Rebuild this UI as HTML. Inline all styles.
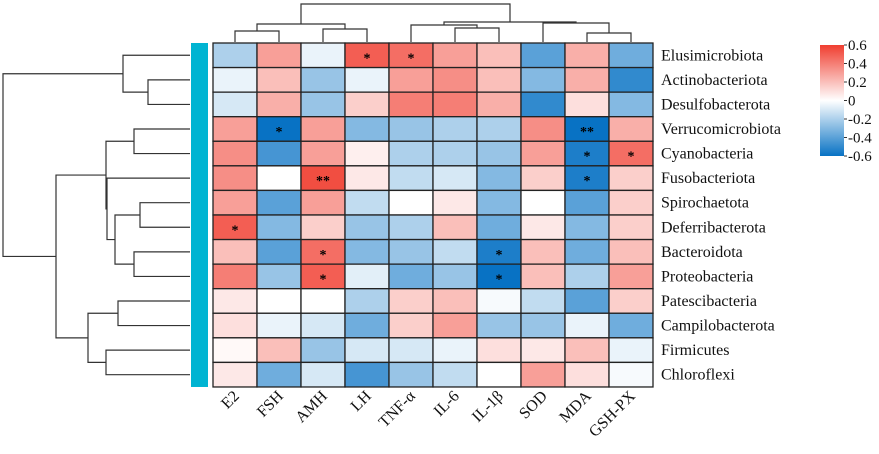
<!DOCTYPE html>
<html><head><meta charset="utf-8"><style>
html,body{margin:0;padding:0;background:#fff;}
svg{display:block;font-family:"Liberation Serif",serif;}
</style></head><body>
<svg id="c" width="879" height="454" viewBox="0 0 879 454"></svg>
<script>
const rows=["Elusimicrobiota","Actinobacteriota","Desulfobacterota","Verrucomicrobiota","Cyanobacteria","Fusobacteriota","Spirochaetota","Deferribacterota","Bacteroidota","Proteobacteria","Patescibacteria","Campilobacterota","Firmicutes","Chloroflexi"];
const cols=["E2","FSH","AMH","LH","TNF-α","IL-6","IL-1β","SOD","MDA","GSH-PX"];
const values=[
[-0.2,0.3,-0.05,0.5,0.45,0.3,0.2,-0.4,0.25,-0.35],
[-0.05,0.2,-0.25,-0.05,0.3,0.35,0.2,-0.3,0.25,-0.5],
[-0.1,0.25,-0.25,0.15,0.4,0.4,0.25,-0.5,0.1,-0.3],
[0.3,-0.6,0.3,-0.3,-0.25,-0.2,-0.2,0.35,-0.6,0.25],
[0.35,-0.45,0.3,0.05,-0.2,-0.2,-0.25,0.3,-0.55,0.45],
[0.35,0,0.55,0.07,-0.15,-0.1,-0.3,0.15,-0.55,0.15],
[0.3,-0.4,0.3,-0.15,0,0.07,-0.3,0,-0.4,0.15],
[0.5,-0.3,0.15,-0.25,-0.2,0.2,-0.35,0.07,-0.3,0.15],
[0.2,-0.4,0.45,-0.3,-0.25,-0.15,-0.55,0.2,-0.35,0.2],
[0.4,-0.25,0.5,-0.07,-0.35,-0.25,-0.6,0.2,-0.2,0.3],
[0.07,0,0,-0.2,0.15,0.2,-0.02,-0.15,-0.4,0.15],
[0.1,-0.05,-0.1,-0.35,0.15,0.3,-0.25,-0.25,-0.05,-0.35],
[0.02,0.2,-0.25,-0.1,-0.1,-0.05,0.1,0.07,0.2,-0.05],
[0.07,-0.35,-0.1,-0.45,-0.25,-0.15,0,0.3,0.1,-0.02]];
const stars=[
["","","","*","*","","","","",""],
["","","","","","","","","",""],
["","","","","","","","","",""],
["","*","","","","","","","**",""],
["","","","","","","","","*","*"],
["","","**","","","","","","*",""],
["","","","","","","","","",""],
["*","","","","","","","","",""],
["","","*","","","","*","","",""],
["","","*","","","","*","","",""],
["","","","","","","","","",""],
["","","","","","","","","",""],
["","","","","","","","","",""],
["","","","","","","","","",""]];
const ticks=[0.6,0.4,0.2,0,-0.2,-0.4,-0.6];
const tickLabels=["0.6","0.4","0.2","0","-0.2","-0.4","-0.6"];

const svg=document.getElementById('c');
const NS="http://www.w3.org/2000/svg";
const X0=213,Y0=43,CW=44,RH=24.57;
const xc=j=>X0+CW*(j+0.5), yc=i=>Y0+RH*(i+0.5);
function color(v){
  const t=Math.max(-1,Math.min(1,v/0.6));
  let a,b;
  if(t>=0){a=[255,255,255];b=[240,62,48];}else{a=[255,255,255];b=[8,114,196];}
  const k=Math.abs(t);
  return `rgb(${a.map((c,i)=>Math.round(c+(b[i]-c)*k)).join(',')})`;
}
function mk(tag,attrs,parent){const e=document.createElementNS(NS,tag);for(const k in attrs)e.setAttribute(k,attrs[k]);(parent||svg).appendChild(e);return e;}

values.forEach((row,i)=>row.forEach((v,j)=>{
  const r=mk('rect',{x:X0+CW*j,y:Y0+RH*i,width:CW,height:RH,fill:color(v),stroke:'#222','stroke-width':1.3});
  
  
  if(stars[i][j]){
    const t=mk('text',{x:xc(j),y:yc(i)+7,'text-anchor':'middle','font-size':14,'font-weight':'bold',fill:'#000'});
    t.textContent=stars[i][j];
    
    
  }
}));
rows.forEach((r,i)=>{
  const t=mk('text',{x:X0+CW*10+8,y:yc(i)+5,'font-size':16,fill:'#111'});
  t.textContent=r;
  
  
});
cols.forEach((c,j)=>{
  const x=xc(j)+5,y=397;
  const t=mk('text',{x:x,y:y,'font-size':16,fill:'#111','text-anchor':'end',transform:`rotate(-45 ${x} ${y})`});
  t.textContent=c;
  
  
});
const cyanBar=mk('rect',{x:191,y:Y0,width:17,height:RH*14,fill:'#00b4d2'});



const dg=mk('g',{stroke:'#333','stroke-width':1.2,fill:'none'});


function rowLink(a,b,x){
  mk('path',{d:`M${a.x},${a.y}H${x}V${b.y}H${b.x}`},dg);return {x:x,y:(a.y+b.y)/2};}
const leafR=i=>({x:190,y:yc(i)});
const r12=rowLink(leafR(1),leafR(2),148);
const rTop=rowLink(leafR(0),r12,123);
const r34=rowLink(leafR(3),leafR(4),134);
const r67=rowLink(leafR(6),leafR(7),140);
const r89=rowLink(leafR(8),leafR(9),134);
const r6789=rowLink(r67,r89,115);
const r56789=rowLink(leafR(5),r6789,107);
const rMid=rowLink(r34,r56789,106);
const r1011=rowLink(leafR(10),leafR(11),118);
const r1213=rowLink(leafR(12),leafR(13),106);
const rLow=rowLink(r1011,r1213,88);
const rML=rowLink(rMid,rLow,56);
rowLink(rTop,rML,3);
function colLink(a,b,y){mk('path',{d:`M${a.x},${a.y}V${y}H${b.x}V${b.y}`},dg);return {x:(a.x+b.x)/2,y:y};}
const leafC=j=>({x:xc(j),y:42});
const c01=colLink(leafC(0),leafC(1),31);
const c23=colLink(leafC(2),leafC(3),29);
const cLeft=colLink(c01,c23,24);
const c56=colLink(leafC(5),leafC(6),28);
const c456=colLink(leafC(4),c56,25);
const c89=colLink(leafC(8),leafC(9),33);
const c789=colLink(leafC(7),c89,23);
const cRight=colLink(c456,c789,22);
colLink(cLeft,cRight,4);

const defs=mk('defs',{});
const lg=mk('linearGradient',{id:'cbg',x1:0,y1:0,x2:0,y2:1},defs);
[[0,0.6],[0.5,0],[1,-0.6]].forEach(([o,v])=>mk('stop',{offset:o,'stop-color':color(v)},lg));
const CB0=45,CB1=156;
const cbar=mk('rect',{x:820,y:CB0,width:24,height:CB1-CB0,fill:'url(#cbg)'});


const cby=v=>CB0+(0.6-v)/1.2*(CB1-CB0);
ticks.forEach((v,k)=>{
  mk('line',{x1:844,x2:847,y1:cby(v),y2:cby(v),stroke:'#333'});
  const t=mk('text',{x:848,y:cby(v)+5,'font-size':15,fill:'#111'});
  t.textContent=tickLabels[k];
  
  
});
</script>
</body></html>
